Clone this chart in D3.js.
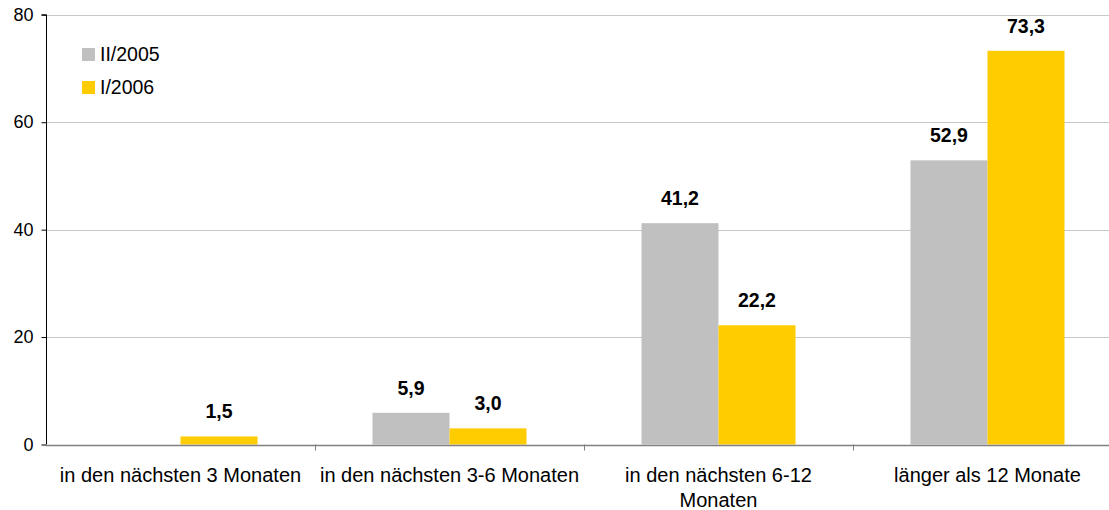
<!DOCTYPE html>
<html>
<head>
<meta charset="utf-8">
<script src="https://cdn.jsdelivr.net/npm/d3@7"></script>
<style>
  body { margin: 0; background: #fff; }
  text { font-family: "Liberation Sans", Arial, sans-serif; }
</style>
</head>
<body>
<svg class="chart" width="1109" height="510"></svg>
<script>
const categories = ['in den nächsten 3 Monaten', 'in den nächsten 3-6 Monaten', 'in den nächsten 6-12\nMonaten', 'länger als 12 Monate'];
const seriesNames = ['II/2005', 'I/2006'];
const values2005 = [null, 5.9, 41.2, 52.9];
const values2006 = [1.5, 3.0, 22.2, 73.3];
const yTicks = [0, 20, 40, 60, 80];
const colors = ['#c0c0c0', '#ffcc00'];

const svg = d3.select('.chart');
const left = 46;
const bandW = 269;
const x = d3.scaleBand().domain(categories).range([left, left + bandW * categories.length]).padding(0);
const y = d3.scaleLinear().domain([0, 80]).range([444.5, 14.8]);
const barW = 77;

// gridlines
svg.append('g')
  .selectAll('line')
  .data(yTicks.filter(d => d > 0))
  .enter()
  .append('line')
  .attr('x1', left).attr('x2', 1109)
  .attr('y1', d => Math.round(y(d)) + 0.5).attr('y2', d => Math.round(y(d)) + 0.5)
  .attr('stroke', '#c8c8c8');

const fmt = v => d3.format('.1f')(v).replace('.', ',');

const series = [values2005, values2006];
series.forEach((vals, s) => {
  const data = categories.map((c, i) => ({ c, v: vals[i] })).filter(d => d.v != null);
  const g = svg.append('g');
  g.selectAll('rect')
    .data(data)
    .enter()
    .append('rect')
    .attr('x', d => x(d.c) + x.bandwidth() / 2 - barW + s * barW)
    .attr('y', d => y(d.v))
    .attr('width', barW)
    .attr('height', d => y(0) - y(d.v))
    .attr('fill', colors[s]);
  g.selectAll('text')
    .data(data)
    .enter()
    .append('text')
    .attr('x', d => x(d.c) + x.bandwidth() / 2 - barW / 2 + s * barW)
    .attr('y', d => y(d.v) - 18)
    .attr('text-anchor', 'middle')
    .attr('font-size', '19.5px')
    .attr('font-weight', 'bold')
    .attr('fill', '#000')
    .text(d => fmt(d.v));
});

// y axis
const yAxis = svg.append('g')
  .attr('transform', `translate(${left + 0.5}, 0)`)
  .call(d3.axisLeft(y).tickValues(yTicks).tickSize(5).tickPadding(8));
yAxis.select('.domain').attr('stroke', '#000').attr('d', `M-5,${y(80)}H0V${y(0)}`);
yAxis.selectAll('.tick line').attr('stroke', '#000');
yAxis.selectAll('.tick text').attr('font-size', '18px').attr('fill', '#000').style('font-family', '"Liberation Sans", Arial, sans-serif');

// x axis
const xAxis = svg.append('g')
  .attr('transform', `translate(0, ${Math.round(y(0)) + 0.5})`)
  .call(d3.axisBottom(x).tickSize(0).tickFormat(''));
xAxis.select('.domain').attr('stroke', '#808080').attr('stroke-width', 1.5).attr('d', `M${left},0H1109`);
svg.append('g')
  .selectAll('line')
  .data(categories.slice(1))
  .enter()
  .append('line')
  .attr('x1', d => Math.round(x(d)) + 0.5).attr('x2', d => Math.round(x(d)) + 0.5)
  .attr('y1', y(0)).attr('y2', y(0) + 6)
  .attr('stroke', '#808080');

// category labels
const catLabels = svg.append('g')
  .selectAll('text')
  .data(categories)
  .enter()
  .append('text')
  .attr('x', d => x(d) + x.bandwidth() / 2)
  .attr('y', 482)
  .attr('text-anchor', 'middle')
  .attr('font-size', '20px')
  .attr('fill', '#000');
catLabels.each(function (d) {
  const el = d3.select(this);
  d.split('\n').forEach((line, i) => {
    el.append('tspan')
      .attr('x', x(d) + x.bandwidth() / 2)
      .attr('dy', i === 0 ? 0 : 25)
      .text(line);
  });
});

// legend
const legend = svg.append('g')
  .selectAll('g')
  .data(seriesNames)
  .enter()
  .append('g')
  .attr('transform', (d, i) => `translate(82, ${48 + i * 33})`);
legend.append('rect')
  .attr('width', 13).attr('height', 13)
  .attr('fill', (d, i) => colors[i]);
legend.append('text')
  .attr('x', 18).attr('y', 13)
  .attr('font-size', '19.5px')
  .attr('fill', '#000')
  .text(d => d);
</script>
</body>
</html>
